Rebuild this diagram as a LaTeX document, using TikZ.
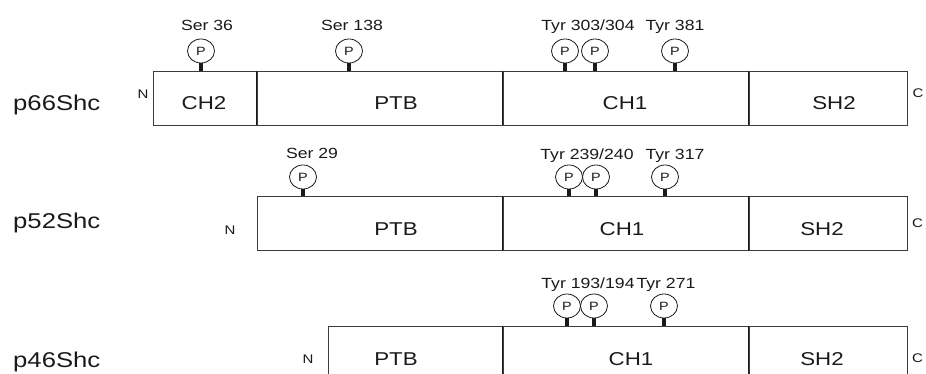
\documentclass[tikz,border=0pt]{standalone}
\usepackage{fontspec}
\usetikzlibrary{shapes.geometric}
\newfontfamily\arialw{Liberation Sans}[FakeStretch=1.2]
\definecolor{ink}{HTML}{1A1A1A}
\definecolor{edge}{HTML}{3C3C3C}
\tikzset{
  dom/.style={draw=edge,line width=0.8pt,inner sep=0pt,minimum height=54pt},
  div/.style={line width=1.5pt,draw=ink},
  dlab/.style={anchor=base,inner sep=0pt,text=ink,font=\arialw\fontsize{18.6}{20}\selectfont},
  plab/.style={anchor=base west,inner sep=0pt,text=ink,font=\arialw\fontsize{21.4}{24}\selectfont},
  site/.style={anchor=base,inner sep=0pt,text=ink,font=\arialw\fontsize{14.7}{16}\selectfont},
  term/.style={inner sep=0pt,text=ink,font=\arialw\fontsize{12.5}{14}\selectfont},
  phos/.style={ellipse,draw=ink,line width=0.8pt,fill=white,minimum width=27pt,minimum height=24pt,
    inner sep=0pt,text=ink,font=\arialw\fontsize{12}{13}\selectfont},
  stem/.style={line width=3.4pt,draw=ink},
}
\begin{document}
\begin{tikzpicture}[x=1pt,y=-1pt]
\clip (0,0) rectangle (926,374);
% p66Shc
\node[plab] (p66) at (13,111) {p66Shc};
\node[dom,minimum width=104pt] (ch2a) at (205,98) {};
\node[dom,minimum width=246pt] (ptba) at (380,98) {};
\node[dom,minimum width=246pt] (ch1a) at (626,98) {};
\node[dom,minimum width=158pt] (sh2a) at (828,98) {};
\draw[div] (ptba.north west) -- (ptba.south west);
\draw[div] (ch1a.north west) -- (ch1a.south west);
\draw[div] (sh2a.north west) -- (sh2a.south west);
\node[dlab] (tch2a) at (204,110) {CH2};
\node[dlab] (tptba) at (396,110) {PTB};
\node[dlab] (tch1a) at (625,110) {CH1};
\node[dlab] (tsh2a) at (834,110) {SH2};
\node[term] (na) at (143,94.5) {N};
\node[term] (ca) at (918,93.5) {C};
\node[phos] (pa1) at (201,51) {P};
\node[phos] (pa2) at (349,51) {P};
\node[phos] (pa3) at (565,51) {P};
\node[phos] (pa4) at (595,51) {P};
\node[phos] (pa5) at (675,51) {P};
\draw[stem] (pa1) -- (pa1 |- ch2a.north);
\draw[stem] (pa2) -- (pa2 |- ptba.north);
\draw[stem] (pa3) -- (pa3 |- ch1a.north);
\draw[stem] (pa4) -- (pa4 |- ch1a.north);
\draw[stem] (pa5) -- (pa5 |- ch1a.north);
\node[site] (sa1) at (207,31) {Ser 36};
\node[site] (sa2) at (352,31) {Ser 138};
\node[site] (sa3) at (588,31) {Tyr 303/304};
\node[site] (sa4) at (675,31) {Tyr 381};
% p52Shc
\node[plab] (p52) at (13,229) {p52Shc};
\node[dom,minimum width=246pt] (ptbb) at (380,223.5) {};
\node[dom,minimum width=246pt] (ch1b) at (626,223.5) {};
\node[dom,minimum width=158pt] (sh2b) at (828,223.5) {};
\draw[div] (ch1b.north west) -- (ch1b.south west);
\draw[div] (sh2b.north west) -- (sh2b.south west);
\node[dlab] (tptbb) at (396,236) {PTB};
\node[dlab] (tch1b) at (622,236) {CH1};
\node[dlab] (tsh2b) at (822,236) {SH2};
\node[term] (nb) at (230,230) {N};
\node[term] (cb) at (917.5,223) {C};
\node[phos] (pb1) at (303,177) {P};
\node[phos] (pb2) at (569,177) {P};
\node[phos] (pb3) at (596,177) {P};
\node[phos] (pb4) at (665,177) {P};
\draw[stem] (pb1) -- (pb1 |- ptbb.north);
\draw[stem] (pb2) -- (pb2 |- ch1b.north);
\draw[stem] (pb3) -- (pb3 |- ch1b.north);
\draw[stem] (pb4) -- (pb4 |- ch1b.north);
\node[site] (sb1) at (312,159) {Ser 29};
\node[site] (sb2) at (587,160) {Tyr 239/240};
\node[site] (sb3) at (675,160) {Tyr 317};
% p46Shc
\node[plab] (p46) at (13,367) {p46Shc};
\node[dom,minimum width=175pt] (ptbc) at (415.5,353) {};
\node[dom,minimum width=246pt] (ch1c) at (626,353) {};
\node[dom,minimum width=158pt] (sh2c) at (828,353) {};
\draw[div] (ch1c.north west) -- (ch1c.south west);
\draw[div] (sh2c.north west) -- (sh2c.south west);
\node[dlab] (tptbc) at (396,365) {PTB};
\node[dlab] (tch1c) at (631,365) {CH1};
\node[dlab] (tsh2c) at (822,365) {SH2};
\node[term] (nc) at (308,359) {N};
\node[term] (cc) at (917.5,358) {C};
\node[phos] (pc1) at (567,306) {P};
\node[phos] (pc2) at (594,306) {P};
\node[phos] (pc3) at (664,306) {P};
\draw[stem] (pc1) -- (pc1 |- ch1c.north);
\draw[stem] (pc2) -- (pc2 |- ch1c.north);
\draw[stem] (pc3) -- (pc3 |- ch1c.north);
\node[site] (sc1) at (588,288) {Tyr 193/194};
\node[site] (sc2) at (666,288) {Tyr 271};
\end{tikzpicture}
\end{document}
